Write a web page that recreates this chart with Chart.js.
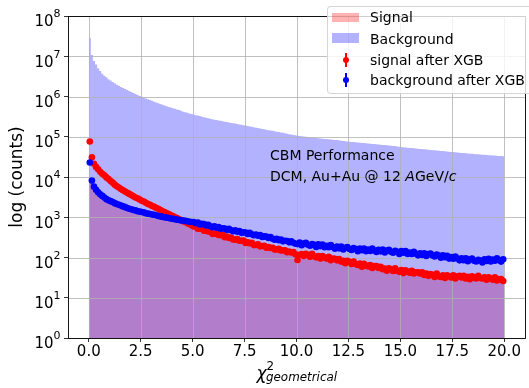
<!DOCTYPE html>
<html>
<head>
<meta charset="utf-8">
<script src="https://cdn.jsdelivr.net/npm/chart.js@4.4.1/dist/chart.umd.min.js"></script>
<style>
html,body{margin:0;padding:0;background:#fff;}
#wrap{position:relative;width:529px;height:388px;overflow:hidden;font-family:'DejaVu Sans',sans-serif;color:#000;}
canvas{position:absolute;left:0;top:0;}
.abs{position:absolute;white-space:nowrap;line-height:1;}
#legend{position:absolute;left:326.5px;top:6px;width:230px;height:86px;border:1px solid rgba(204,204,204,0.8);border-radius:4px;background:rgba(255,255,255,0.8);}
.lt{font-size:14px;}
</style>
</head>
<body>
<div id="wrap">
<canvas id="c" width="529" height="388"></canvas>
<div id="legend"></div>
<div class="abs" style="left:331.7px;top:12.7px;width:27.6px;height:9.5px;background:rgba(255,0,0,0.3);"></div>
<div class="abs" style="left:331.7px;top:33.3px;width:27.6px;height:9.5px;background:rgba(0,0,255,0.3);"></div>
<div class="abs" style="left:345.2px;top:52.7px;width:1.5px;height:14.6px;background:#ff0000;"></div>
<div class="abs" style="left:342.6px;top:56.7px;width:6.6px;height:6.6px;border-radius:50%;background:#ff0000;"></div>
<div class="abs" style="left:345.2px;top:72.7px;width:1.5px;height:14.6px;background:#0000ff;"></div>
<div class="abs" style="left:342.6px;top:76.7px;width:6.6px;height:6.6px;border-radius:50%;background:#0000ff;"></div>
<div class="abs lt" style="left:370px;top:9.9px;">Signal</div>
<div class="abs lt" style="left:370px;top:31.5px;">Background</div>
<div class="abs lt" style="left:370px;top:53.2px;">signal after XGB</div>
<div class="abs lt" style="left:370px;top:73.2px;">background after XGB</div>
<div class="abs lt" style="left:270px;top:148.2px;">CBM Performance</div>
<div class="abs lt" style="left:270px;top:168.8px;">DCM, Au+Au @ 12 <i>A</i>GeV/<i>c</i></div>
<div class="abs" style="left:256.5px;top:365.1px;font-size:17px;font-style:italic;">χ</div>
<div class="abs" style="left:266.5px;top:360.6px;font-size:11.9px;">2</div>
<div class="abs" style="left:266px;top:371.6px;font-size:11.9px;font-style:italic;">geometrical</div>
</div>
<script>
// ---- data ----
const binWidth = 0.1;
const nBins = 200;
const xTicks = [0, 2.5, 5, 7.5, 10, 12.5, 15, 17.5, 20];
const yTicks = [1, 10, 100, 1000, 10000, 100000, 1000000, 10000000, 100000000];
const yTickExp = ['0','1','2','3','4','5','6','7','8'];

// histogram "Signal" (counts per bin of width 0.1, from 0 to 20)
const signalHist = [
  8300,6200,5000,4300,3800,3400,3100,2850,2600,2420,
  2280,2170,2060,1960,1870,1790,1710,1640,1580,1520,
  1460,1410,1360,1310,1260,1220,1180,1140,1110,1080,
  1040,1010,985,960,935,910,885,860,840,820,
  800,780,762,745,725,700,670,640,605,575,
  545,520,495,475,455,440,425,410,392,375,
  362,350,338,326,316,305,294,284,276,268,
  260,252,244,236,230,224,217,210,205,200,
  194,188,182,176,172,167,162,158,155,151,
  147,143,139,135,131,128,126,122,118,115,
  113,111,108,106,105,103,101,99,98,96,
  94,92,91,89,88,86,85,84,82,80,
  79,77,75,73,70,68,67,66,65,64,
  63,61,60,58,57,56,55,53,52,51,
  50,49,48,48,47,46,45,45,44,44,
  43,43,42,41,40,40,39,39,38,38,
  37,37,36,36,35,35,34,34,33,33,
  32,32,32,32,31,31,31,31,30,30,
  30,30,30,30,29,29,29,29,29,29,
  28,28,28,28,27,27,26,26,25,25];

// histogram "Background"
const backgroundHist = [
  28000000,10700000,7600000,6200000,5000000,4300000,3700000,3300000,3000000,2700000,
  2500000,2300000,2120000,1970000,1840000,1730000,1630000,1540000,1450000,1370000,
  1300000,1230000,1160000,1090000,1030000,980000,930000,890000,850000,815000,
  780000,745000,710000,680000,650000,620000,595000,575000,550000,530000,
  510000,493000,476000,460000,440000,420000,406000,392000,380000,366000,
  353000,342000,335000,327000,315000,305000,298000,290000,280000,271000,
  266000,260000,254000,248000,243000,237000,232000,226000,221000,216000,
  212000,207000,202000,198000,193000,189000,184000,180000,176000,172000,
  168000,164000,160000,156000,153000,150000,146000,143000,140000,137000,
  134000,131000,128000,125000,122000,119000,116000,114000,111000,109000,
  106000,104000,102500,101000,100000,99000,98000,96000,94000,93000,
  92000,91000,89500,88500,87500,86500,85500,84500,83500,82500,
  81500,80000,78500,77000,76200,75500,74500,73700,72800,72000,
  71200,70400,69600,68800,68000,67200,66500,65700,65000,64200,
  63500,62800,62000,61300,60600,60000,59200,58500,57500,56500,
  55500,54800,54000,53400,52800,52200,51600,51000,50400,49800,
  49300,48700,48200,47600,47100,46500,46000,45500,45000,44500,
  44000,43500,43000,42500,42000,41500,41000,40500,40000,39600,
  39200,38700,38300,37900,37600,37300,37000,36600,36200,35800,
  35500,35200,34800,34500,34200,34000,33700,33400,33100,32800];

// points "signal after XGB" (bin centres)
const signalAfterXGB = [
  75900,30900,21400,17800,15500,13500,12000,11000,9770,8910,
  7940,7240,6460,5890,5500,5010,4680,4370,4070,3800,
  3550,3310,3090,2950,2750,2570,2450,2290,2140,2040,
  1910,1820,1700,1620,1510,1410,1350,1260,1200,1120,
  1070,1000,955,891,851,794,759,708,676,631,
  591,598,521,518,526,460,466,443,440,387,
  390,395,361,359,364,318,330,306,311,280,
  276,286,261,260,264,230,239,227,231,203,
  205,212,189,193,195,175,182,172,175,158,
  159,164,150,149,152,135,141,134,136,120,
  87,117,122,109,124,116,104,123,107,101,
  109,95,109,100,94,104,86,94,93,85,
  92,79,83,72,83,77,69,79,69,65,
  71,59,70,63,60,65,55,61,61,55,
  59,51,53,47,54,51,46,54,47,44,
  49,41,48,45,42,47,40,43,43,40,
  43,37,40,35,39,37,33,40,34,33,
  36,31,36,34,32,36,30,34,35,32,
  35,30,33,29,34,32,30,35,31,30,
  32,28,32,30,28,32,27,29,29,26];

// points "background after XGB"
const backgroundAfterXGB = [
  22900,8130,5750,4790,4170,3720,3390,3090,2820,2630,
  2510,2400,2240,2140,2040,1950,1860,1780,1700,1620,
  1580,1510,1480,1410,1380,1350,1320,1260,1230,1200,
  1170,1150,1120,1070,1050,1020,1000,977,955,933,
  912,891,871,851,832,832,813,794,776,759,
  763,710,736,664,683,674,627,648,597,565,
  592,551,572,516,530,523,486,515,474,449,
  471,438,454,410,421,415,386,408,376,357,
  374,348,361,325,334,330,307,324,292,276,
  290,270,280,252,260,256,238,252,232,220,
  215,236,201,222,233,207,196,217,206,182,
  212,192,211,179,195,180,205,182,166,187,
  169,186,158,175,183,163,154,171,163,144,
  167,152,168,144,157,145,167,149,137,155,
  142,157,133,148,156,138,132,146,139,123,
  144,131,144,122,132,122,139,124,113,128,
  116,128,109,121,125,112,106,118,112,99,
  113,102,111,94,102,93,106,94,85,95,
  86,95,81,90,94,83,80,88,84,75,
  90,82,93,80,89,83,96,86,79,90];

const binEdges = Array.from({length: nBins + 1}, (_, i) => +(i * binWidth).toFixed(2));
const binCentres = Array.from({length: nBins}, (_, i) => +((i + 0.5) * binWidth).toFixed(2));

const histData = arr => binEdges.map((x, i) => ({x, y: arr[Math.min(i, arr.length - 1)]}));
const ptData = arr => binCentres.map((x, i) => ({x, y: arr[i]}));

// ---- plugins ----
const gridOver = {
  id: 'gridOver',
  afterDatasetDraw(chart, args) {
    if (args.index !== 1) return;
    const {ctx, chartArea: a, scales: {x, y}} = chart;
    ctx.save();
    ctx.strokeStyle = '#b0b0b0';
    ctx.lineWidth = 0.8;
    ctx.beginPath();
    xTicks.forEach(v => { const p = Math.round(x.getPixelForValue(v)) + 0.5; ctx.moveTo(p, a.top); ctx.lineTo(p, a.bottom); });
    yTicks.forEach(v => { const p = Math.round(y.getPixelForValue(v)) + 0.5; ctx.moveTo(a.left, p); ctx.lineTo(a.right, p); });
    ctx.stroke();
    ctx.restore();
  }
};
const frame = {
  id: 'frame',
  afterDatasetsDraw(chart) {
    const {ctx, chartArea: a} = chart;
    ctx.save();
    ctx.strokeStyle = '#000';
    ctx.lineWidth = 0.9;
    ctx.strokeRect(Math.floor(a.left) + 0.5, Math.floor(a.top) + 0.5, Math.round(a.right - a.left), Math.round(a.bottom - a.top));
    ctx.restore();
  }
};
const yLabels = {
  id: 'yLabels',
  afterDraw(chart) {
    const {ctx, scales: {y}} = chart;
    ctx.save();
    ctx.fillStyle = '#000';
    ctx.textBaseline = 'alphabetic';
    yTicks.forEach((v, i) => {
      const py = y.getPixelForValue(v);
      const exp = yTickExp[i];
      ctx.font = '11px "DejaVu Sans"';
      const ew = ctx.measureText(exp).width;
      const xr = 60.5;
      ctx.textAlign = 'left';
      ctx.fillText(exp, xr - ew, py + 1.3);
      ctx.font = '15px "DejaVu Sans"';
      ctx.textAlign = 'right';
      ctx.fillText('10', xr - ew, py + 10.3);
    });
    ctx.restore();
  }
};

const tickGrid = {display: true, drawOnChartArea: false, drawTicks: true, tickLength: 4, tickColor: '#000', tickWidth: 0.8};

new Chart(document.getElementById('c'), {
  type: 'line',
  data: {
    datasets: [
      {label: 'Signal', data: histData(signalHist), stepped: 'before', fill: 'start',
       backgroundColor: 'rgba(255,0,0,0.3)', borderColor: 'rgba(0,0,0,0)', borderWidth: 0, pointRadius: 0, order: 3},
      {label: 'Background', data: histData(backgroundHist), stepped: 'before', fill: 'start',
       backgroundColor: 'rgba(0,0,255,0.3)', borderColor: 'rgba(0,0,0,0)', borderWidth: 0, pointRadius: 0, order: 2},
      {label: 'signal after XGB', data: ptData(signalAfterXGB), showLine: false,
       pointRadius: 3.3, pointBackgroundColor: '#ff0000', pointBorderWidth: 0, order: 1},
      {label: 'background after XGB', data: ptData(backgroundAfterXGB), showLine: false,
       pointRadius: 3.3, pointBackgroundColor: '#0000ff', pointBorderWidth: 0, order: 0}
    ]
  },
  options: {
    responsive: false,
    animation: false,
    events: [],
    layout: {padding: {top: 16, left: 0, right: 0, bottom: 0}},
    plugins: {legend: {display: false}, tooltip: {enabled: false}},
    scales: {
      x: {
        type: 'linear', min: -1, max: 21,
        afterBuildTicks: s => { s.ticks = xTicks.map(v => ({value: v})); },
        afterFit: s => { s.height = 50; },
        ticks: {font: {family: 'DejaVu Sans', size: 15}, color: '#000', padding: 1, maxRotation: 0, autoSkip: false,
                callback: v => Number(v).toFixed(1)},
        grid: tickGrid,
        border: {display: false}
      },
      y: {
        type: 'logarithmic', min: 1, max: 100000000,
        afterBuildTicks: s => { s.ticks = yTicks.map(v => ({value: v})); },
        afterFit: s => { s.width = 68; },
        ticks: {display: false},
        grid: tickGrid,
        border: {display: false},
        title: {display: true, text: 'log (counts)', font: {family: 'DejaVu Sans', size: 17}, color: '#000', padding: {top: 7, bottom: 0}}
      }
    }
  },
  plugins: [gridOver, frame, yLabels]
});
</script>
</body>
</html>
